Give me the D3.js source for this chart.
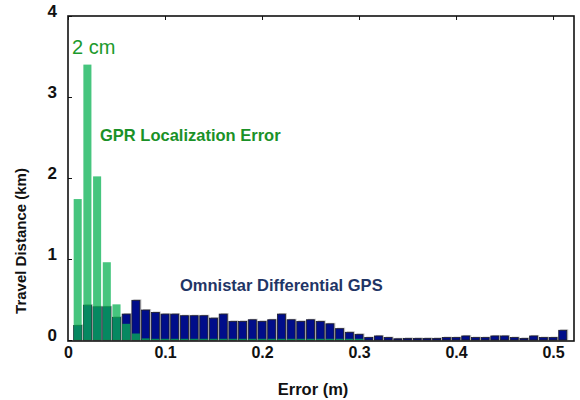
<!DOCTYPE html>
<html>
<head>
<meta charset="utf-8">
<script src="https://cdn.jsdelivr.net/npm/d3@7"></script>
<style>
  body { margin: 0; background: #fff; }
  svg text { font-family: Arial, "Liberation Sans", sans-serif; }
</style>
</head>
<body>
<div id="chart"></div>
<script>
// bin centres (m) and travel distance per bin (km)
var gprBins = [0.01, 0.02, 0.03, 0.04, 0.05, 0.06, 0.07, 0.08, 0.09, 0.10,
  0.11, 0.12, 0.13, 0.14, 0.15, 0.16, 0.17, 0.18, 0.19, 0.20,
  0.21, 0.22, 0.23, 0.24, 0.25, 0.26, 0.27, 0.28, 0.29, 0.30];
var gprKm = [1.74, 3.40, 2.02, 0.96, 0.44, 0.20, 0.08, 0.02, 0.015, 0.015,
  0.015, 0.015, 0.015, 0.015, 0.015, 0.015, 0.015, 0.015, 0.015, 0.015,
  0.015, 0.015, 0.015, 0.015, 0.015, 0.015, 0.015, 0.015, 0.015, 0.015];

var gpsBins = [0.01, 0.02, 0.03, 0.04, 0.05, 0.06, 0.07, 0.08, 0.09, 0.10,
  0.11, 0.12, 0.13, 0.14, 0.15, 0.16, 0.17, 0.18, 0.19, 0.20,
  0.21, 0.22, 0.23, 0.24, 0.25, 0.26, 0.27, 0.28, 0.29, 0.30,
  0.31, 0.32, 0.33, 0.34, 0.35, 0.36, 0.37, 0.38, 0.39, 0.40,
  0.41, 0.42, 0.43, 0.44, 0.45, 0.46, 0.47, 0.48, 0.49, 0.50, 0.51];
var gpsKm = [0.18, 0.43, 0.41, 0.41, 0.28, 0.32, 0.49, 0.37, 0.34, 0.32,
  0.32, 0.30, 0.30, 0.30, 0.27, 0.32, 0.23, 0.23, 0.25, 0.23,
  0.25, 0.32, 0.25, 0.23, 0.25, 0.23, 0.20, 0.14, 0.095, 0.07,
  0.03, 0.05, 0.03, 0.015, 0.02, 0.02, 0.02, 0.02, 0.03, 0.03,
  0.05, 0.03, 0.03, 0.05, 0.05, 0.03, 0.02, 0.05, 0.03, 0.03, 0.12];

var xTicks = [0, 0.1, 0.2, 0.3, 0.4, 0.5];
var yTicks = [0, 1, 2, 3, 4];

var svgWidth = 580, svgHeight = 400;
var plotL = 68, plotR = 574, plotT = 16, plotB = 340;
var binW = 0.0083;

var svg = d3.select("#chart").append("svg")
  .attr("width", svgWidth)
  .attr("height", svgHeight);

var x = d3.scaleLinear().domain([0, 0.5216]).range([plotL, plotR]);
var y = d3.scaleLinear().domain([0, 4]).range([plotB, plotT]);

var gps = gpsBins.map((b, i) => ({bin: b, km: gpsKm[i]}));
var gpr = gprBins.map((b, i) => ({bin: b, km: gprKm[i]}));

// faint grey shadow behind the blue bars
svg.append("g").selectAll("rect")
  .data(gps)
  .enter().append("rect")
  .attr("x", d => x(d.bin - binW / 2) + 1.5)
  .attr("y", d => y(d.km) - 1)
  .attr("width", x(binW) - x(0))
  .attr("height", d => plotB - y(d.km) + 1)
  .attr("fill", "#c8c8c8");

// blue bars (Omnistar)
svg.append("g").selectAll("rect")
  .data(gps)
  .enter().append("rect")
  .attr("x", d => x(d.bin - binW / 2))
  .attr("y", d => y(d.km))
  .attr("width", x(binW) - x(0))
  .attr("height", d => plotB - y(d.km))
  .attr("fill", "#000d8a")
  .attr("stroke", "#1a1a2a")
  .attr("stroke-width", 0.8);

// green bars (GPR), semi transparent over the blue
svg.append("g").selectAll("rect")
  .data(gpr)
  .enter().append("rect")
  .attr("x", d => x(d.bin - binW / 2))
  .attr("y", d => y(d.km))
  .attr("width", x(binW) - x(0))
  .attr("height", d => plotB - y(d.km))
  .attr("fill", "rgb(8,177,83)")
  .attr("fill-opacity", 0.75);

// frame
svg.append("rect")
  .attr("x", plotL).attr("y", plotT)
  .attr("width", plotR - plotL).attr("height", plotB + 1 - plotT)
  .attr("fill", "none")
  .attr("stroke", "#111")
  .attr("stroke-width", 1.6);

// left axis, inward ticks
var yAxis = d3.axisLeft(y).tickValues(yTicks).tickSize(-4).tickPadding(11)
  .tickFormat(d3.format("d"));
var gy = svg.append("g").attr("transform", "translate(" + plotL + ",0)").call(yAxis);
gy.select(".domain").remove();
gy.selectAll("line").attr("stroke", "#111");
gy.selectAll("text")
  .attr("dy", "0.0em")
  .attr("font-size", 17).attr("font-weight", "bold").attr("fill", "#111");

// top axis inward ticks
var gt = svg.append("g").attr("transform", "translate(0," + plotT + ")")
  .call(d3.axisTop(x).tickValues(xTicks).tickSize(-4).tickFormat(""));
gt.select(".domain").remove();
gt.selectAll("line").attr("stroke", "#111");

// bottom tick labels
var gx = svg.append("g").attr("transform", "translate(0," + plotB + ")")
  .call(d3.axisBottom(x).tickValues(xTicks).tickSize(0).tickPadding(7)
    .tickFormat(d => d === 0 ? "0" : d3.format(".1f")(d)));
gx.select(".domain").remove();
gx.selectAll("text")
  .attr("font-size", 16).attr("font-weight", "bold").attr("fill", "#111");

// axis titles
svg.append("text")
  .attr("x", 313).attr("y", 395)
  .attr("text-anchor", "middle")
  .attr("font-size", 16.5).attr("font-weight", "bold").attr("fill", "#111")
  .text("Error (m)");

svg.append("text")
  .attr("transform", "translate(26,241) rotate(-90)")
  .attr("text-anchor", "middle")
  .attr("font-size", 15).attr("font-weight", "bold").attr("fill", "#111")
  .text("Travel Distance (km)");

// annotations
svg.append("text")
  .attr("x", 72).attr("y", 54)
  .attr("font-size", 20).attr("fill", "#1c9a2c")
  .text("2 cm");

svg.append("text")
  .attr("x", 100).attr("y", 141)
  .attr("font-size", 16.5).attr("font-weight", "bold").attr("fill", "#1a9128")
  .text("GPR Localization Error");

svg.append("text")
  .attr("x", 180).attr("y", 291)
  .attr("font-size", 16.5).attr("font-weight", "bold").attr("fill", "#1f3566")
  .text("Omnistar Differential GPS");
</script>
</body>
</html>
